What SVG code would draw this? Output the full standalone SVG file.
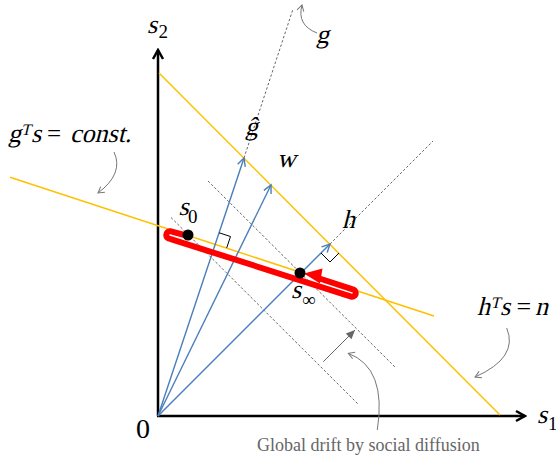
<svg xmlns="http://www.w3.org/2000/svg" width="556" height="460" viewBox="0 0 556 460">
<style>
.lbl{font-family:"Liberation Serif","Times New Roman",serif;font-size:26px;fill:#000}
.sub{font-family:"Liberation Serif","Times New Roman",serif;font-size:19px;fill:#000}
.up{font-family:"Liberation Serif","Times New Roman",serif;fill:#000}
.sup{font-family:"Liberation Serif","Times New Roman",serif;font-size:16px;fill:#000}
.note{font-family:"Liberation Serif","Times New Roman",serif;font-size:18px;fill:#666}
.yel{stroke:#FFC000;stroke-width:1.5;fill:none}
.vec{stroke:#4A7EBB;stroke-width:1.4;fill:none;marker-end:url(#blueArr)}
.dash{stroke:#666;stroke-width:1;stroke-dasharray:2.5 2;fill:none}
.call{stroke:#777;stroke-width:1;fill:none;marker-end:url(#grayOpen)}
.ra{stroke:#000;stroke-width:1;fill:none}
</style>
<defs>
<marker id="axArr" markerUnits="userSpaceOnUse" viewBox="-12 -7 14 14" markerWidth="14" markerHeight="14" refX="0" refY="0" orient="auto">
<path d="M-9,-5 L0,0 L-9,5" fill="none" stroke="#000" stroke-width="2.5"/>
</marker>
<marker id="blueArr" markerUnits="userSpaceOnUse" viewBox="-10 -6 12 12" markerWidth="12" markerHeight="12" refX="0" refY="0" orient="auto">
<path d="M-8,-4 L0,0 L-8,4" fill="none" stroke="#4A7EBB" stroke-width="1.4"/>
</marker>
<marker id="grayOpen" markerUnits="userSpaceOnUse" viewBox="-9 -5 10 10" markerWidth="10" markerHeight="10" refX="0" refY="0" orient="auto">
<path d="M-6,-3.5 L0,0 L-6,3.5" fill="none" stroke="#777" stroke-width="1"/>
</marker>
<marker id="grayFill" markerUnits="userSpaceOnUse" viewBox="-10 -5 11 10" markerWidth="11" markerHeight="10" refX="0" refY="0" orient="auto">
<path d="M-9,-4 L0,0 L-9,4 Z" fill="#666" stroke="none"/>
</marker>
</defs>

<g id="axes">
<line x1="158" y1="416" x2="158" y2="50" stroke="#000" stroke-width="2.5" marker-end="url(#axArr)"/>
<line x1="157" y1="416" x2="525" y2="416" stroke="#000" stroke-width="2.5" marker-end="url(#axArr)"/>
</g>

<g id="guides">
<line class="dash" x1="244" y1="158" x2="293" y2="9"/>
<line class="dash" x1="330" y1="244" x2="433" y2="141"/>
<line class="dash" x1="171" y1="217.5" x2="358" y2="404"/>
<line class="dash" x1="208" y1="181" x2="396" y2="368"/>
</g>

<g id="constraint-lines">
<line class="yel" x1="159" y1="73" x2="500" y2="415"/>
<line class="yel" x1="10" y1="177.3" x2="434" y2="316"/>
</g>

<g id="vectors">
<line class="vec" x1="158" y1="416" x2="244" y2="158"/>
<line class="vec" x1="158" y1="416" x2="271" y2="185"/>
<line class="vec" x1="158" y1="416" x2="330" y2="244"/>
</g>

<g id="right-angles">
<path class="ra" d="M219.1,232.8 L230.5,236.5 L226.7,247.9"/>
<path class="ra" d="M321,253 L330,262 L339,253"/>
</g>

<g id="trajectory">
<path d="M188,236 L170,231.2 A3.8,3.8 0 0 0 170,238.8 L352,296.8 A3.8,3.8 0 0 0 352,289.2 L321,279" fill="none" stroke="#FF0000" stroke-width="6" stroke-linejoin="round" stroke-linecap="round"/>
<polygon points="304,273.5 322.5,268.5 320,283.5" fill="#FF0000"/>
</g>

<g id="points">
<circle id="s0" cx="188" cy="235" r="5.5" fill="#000"/>
<circle id="sinf" cx="300" cy="273" r="5.5" fill="#000"/>
</g>

<g id="connectors">
<path class="call" d="M114,152 Q124,173.5 98,193"/>
<path class="call" d="M317,33 Q296.5,25 302,5"/>
<path class="call" d="M506.7,328 Q519,357.5 475,377"/>
<path class="call" d="M377.3,430 Q387,368 348.3,353.3"/>
<line x1="323.3" y1="361.7" x2="355" y2="330" stroke="#666" stroke-width="1" marker-end="url(#grayFill)"/>
</g>

<g id="labels">
<text class="lbl" transform="translate(147,33) skewX(-14)">s</text><text class="sub" x="158.5" y="38">2</text>
<text class="lbl" transform="translate(537,423) skewX(-14)">s</text><text class="sub" x="548" y="430">1</text>
<text class="up" x="136" y="438" font-size="28">0</text>
<text class="lbl" transform="translate(316,43) skewX(-14)">g</text>
<text class="lbl" transform="translate(245,134.5) skewX(-14)">ĝ</text>
<text class="lbl" transform="translate(277,167) skewX(-14)">w</text>
<text class="lbl" transform="translate(342,228) skewX(-14)">h</text>
<text class="lbl" transform="translate(178.5,215) skewX(-14)">s</text><text class="sub" x="188" y="223">0</text>
<text class="lbl" transform="translate(291,298) skewX(-14)">s</text><text class="sub" x="302" y="306">∞</text>
<g id="label-gTs">
<text class="lbl" font-size="25" transform="translate(8,142) skewX(-14)">g</text>
<text class="sup" transform="translate(21,135) skewX(-14)">T</text>
<text class="lbl" font-size="25" transform="translate(31,142) skewX(-14)">s</text>
<text class="up" x="47" y="142" font-size="25">=</text>
<text class="lbl" font-size="25" transform="translate(70,142) skewX(-14)">const.</text>
</g>
<g id="label-hTs">
<text class="lbl" transform="translate(477,315) skewX(-14)">h</text>
<text class="sup" transform="translate(490.5,308) skewX(-14)">T</text>
<text class="lbl" transform="translate(500,315) skewX(-14)">s</text>
<text class="up" x="516.5" y="315" font-size="26">=</text>
<text class="lbl" transform="translate(535,315) skewX(-14)">n</text>
</g>
<text class="note" x="257" y="450.5">Global drift by social diffusion</text>
</g>
</svg>
